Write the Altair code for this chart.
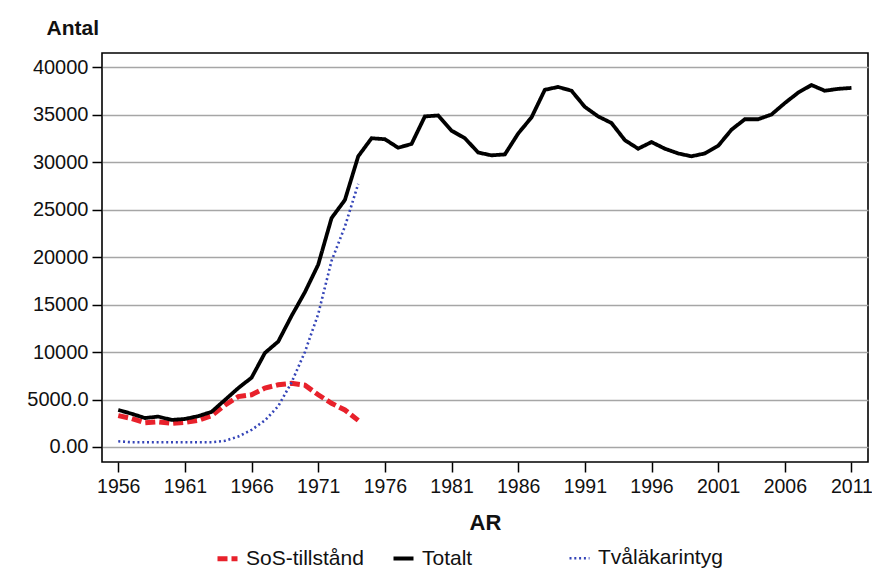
import altair as alt
import pandas as pd

years_total = list(range(1956, 2012))
totalt = [3900, 3500, 3050, 3200, 2850, 2950, 3250, 3700, 4950, 6200,
          7300, 9900, 11100, 13800, 16300, 19200, 24100, 26000, 30600, 32500,
          32400, 31500, 31900, 34800, 34900, 33300, 32500, 31000, 30700, 30800,
          33000, 34700, 37600, 37900, 37500, 35800, 34800, 34100, 32300, 31400,
          32100, 31400, 30900, 30600, 30900, 31700, 33400, 34500, 34500, 35000,
          36200, 37300, 38100, 37500, 37700, 37800]

years_early = list(range(1956, 1975))
sos = [3300, 3000, 2550, 2650, 2500, 2600, 2800, 3300, 4400, 5300,
       5500, 6200, 6550, 6700, 6500, 5500, 4600, 3900, 2800]
tvalakar = [600, 500, 500, 500, 500, 500, 500, 500, 650, 1100,
            1800, 2800, 4300, 6800, 10000, 14000, 19600, 23200, 27700]

series = ["SoS-tillstånd", "Totalt", "Tvåläkarintyg"]
colors = ["#e8212b", "#000000", "#3545b8"]
dashes = [[10, 4], [1, 0], [2, 2.8]]
widths = [5, 2.6, 3.5]
y_ticks = [0, 5000, 10000, 15000, 20000, 25000, 30000, 35000, 40000]
x_ticks = list(range(1956, 2012, 5))

rows = []
for y, v in zip(years_early, sos):
    rows.append({"AR": y, "Antal": v, "serie": series[0]})
for y, v in zip(years_total, totalt):
    rows.append({"AR": y, "Antal": v, "serie": series[1]})
for y, v in zip(years_early, tvalakar):
    rows.append({"AR": y, "Antal": v, "serie": series[2]})
df = pd.DataFrame(rows)

legend = alt.Legend(
    title=None, orient="none", legendX=113, legendY=493,
    direction="horizontal", columns=3, gridAlign="all",
    symbolType="stroke", symbolSize=400, labelFontSize=21,
    labelFont="Liberation Sans", labelColor="#111111", labelOffset=6,
    columnPadding=14, labelLimit=300,
)

chart = alt.Chart(df).mark_line().encode(
    x=alt.X("AR:Q",
            scale=alt.Scale(domain=[1954.78, 2012.24], nice=False, zero=False),
            axis=alt.Axis(values=x_ticks, format="d", grid=False, domain=False,
                          tickSize=10, tickWidth=1.5, tickColor="#000000",
                          labelFontSize=19.5, labelFont="Liberation Sans",
                          labelColor="#111111", labelPadding=5,
                          title="AR", titleFontSize=22, titleFont="Liberation Sans",
                          titleFontWeight="bold", titleColor="#111111",
                          titleY=60, titleBaseline="middle")),
    y=alt.Y("Antal:Q",
            scale=alt.Scale(domain=[-1579, 41474], nice=False, zero=False),
            axis=alt.Axis(values=y_ticks,
                          labelExpr="datum.value == 0 ? '0.00' : datum.value == 5000 ? '5000.0' : format(datum.value, 'd')",
                          grid=True, gridColor="#a6a6a6", gridWidth=1.6,
                          domain=False, tickSize=10, tickWidth=1.5, tickColor="#000000",
                          labelFontSize=20, labelFont="Liberation Sans Narrow, Liberation Sans",
                          labelColor="#111111", labelPadding=4,
                          title="Antal", titleAngle=0, titleAlign="left",
                          titleBaseline="middle", titleX=-56, titleY=-25,
                          titleFontSize=21, titleFont="Liberation Sans",
                          titleFontWeight="bold", titleColor="#111111")),
    color=alt.Color("serie:N", scale=alt.Scale(domain=series, range=colors), legend=legend),
    strokeDash=alt.StrokeDash("serie:N", scale=alt.Scale(domain=series, range=dashes), legend=legend),
    strokeWidth=alt.StrokeWidth("serie:N", scale=alt.Scale(domain=series, range=widths), legend=legend),
).properties(
    width=766, height=409,
    autosize=alt.AutoSizeParams(type="none"),
    padding={"left": 94, "top": 45, "right": 4, "bottom": 111},
).configure_view(
    stroke="#000000", strokeWidth=1.6
)

chart.save("out.html", embed_options={"renderer": "svg", "actions": False})
